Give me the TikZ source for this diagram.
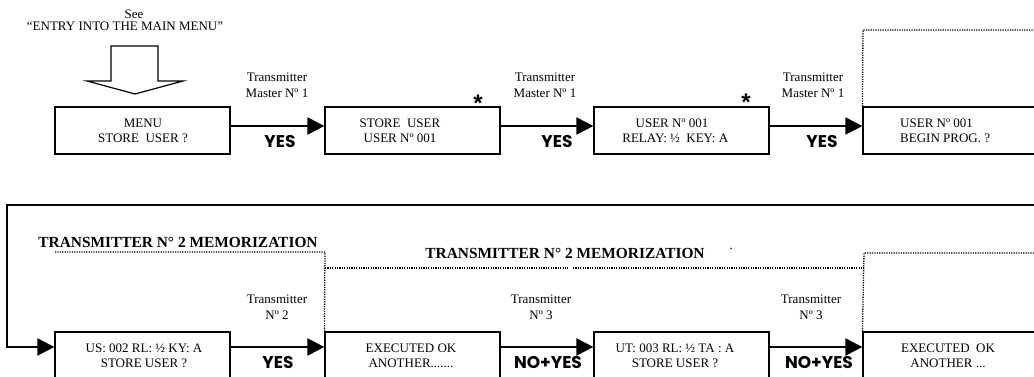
\documentclass[tikz,border=0pt]{standalone}
\usepackage{fontspec}
\setmainfont{Liberation Serif}
\newfontfamily\yesfont{Poppins}
\newfontfamily\starfont{Liberation Sans}
\usetikzlibrary{arrows.meta}

\begin{document}
\begin{tikzpicture}[x=1pt, y=-1pt,
  screen/.style={draw, line width=1.2pt, minimum width=175pt, minimum height=47pt, inner sep=0pt},
  lcd/.style={align=center, font=\fontsize{13}{15}\selectfont, inner sep=0pt},
  tx/.style={align=center, font=\fontsize{13}{16}\selectfont, inner sep=0pt},
  answer/.style={font=\yesfont\bfseries\fontsize{17}{17}\selectfont, inner sep=0pt},
  title/.style={font=\bfseries\fontsize{15.4}{16}\selectfont, inner sep=0pt},
  star/.style={font=\starfont\bfseries\fontsize{24}{24}\selectfont, inner sep=0pt},
  go/.style={line width=2pt, -{Triangle[length=17pt,width=17pt]}},
  zone/.style={line width=1.3pt, dash pattern=on 1.2pt off 1.2pt}]

  \useasboundingbox (0,0) rectangle (1034,377);
  \clip (0,0) rectangle (1034,377);

  % --- entry from the main menu ---
  \node[tx] (see) at (134,14) {See};
  \node[tx] (entry) at (125,26) {“ENTRY INTO THE MAIN MENU”};
  \draw[line width=1.2pt] (111,46) -- (158,46) -- (158,81) -- (183,81)
    -- (135,94) -- (87,81) -- (111,81) -- cycle;

  % --- first row of screens ---
  \node[screen] (menu) at (142.5,130.5) {};
  \node[screen] (store) at (412.5,130.5) {};
  \node[screen] (relay) at (681.5,130.5) {};
  \node[screen] (begin) at (950.5,130.5) {};

  \node[lcd] (menuT) at (143,130.5) {MENU\\STORE\ \ USER ?};
  \node[lcd] (storeT) at (400,130.5) {STORE\ \ USER\\USER Nº 001};
  \node[lcd] (relayT) at (672,130.5) {USER Nº 001\\\ \ RELAY: ½\ \ KEY: A};
  \node[lcd, anchor=west, align=left] (beginT) at (900,130.5) {USER Nº 001\\BEGIN PROG. ?};

  \node[star] (starA) at (478,103) {*};
  \node[star] (starB) at (746,102) {*};

  \draw[go] ([yshift=4.5pt]menu.east) -- ([yshift=4.5pt]store.west);
  \draw[go] ([yshift=4.5pt]store.east) -- ([yshift=4.5pt]relay.west);
  \draw[go] ([yshift=4.5pt]relay.east) -- ([yshift=4.5pt]begin.west);

  \node[tx] (txA) at (277,85) {Transmitter\\Master Nº 1};
  \node[tx] (txB) at (545,85) {Transmitter\\Master Nº 1};
  \node[tx] (txC) at (813,85) {Transmitter\\Master Nº 1};
  \node[answer] (yesA) at (280,142) {YES};
  \node[answer] (yesB) at (557,142) {YES};
  \node[answer] (yesC) at (822,142) {YES};

  % --- dotted frames ---
  \coordinate (frameTop) at (863,30);
  \draw[zone] (begin.north west) -- (frameTop) -- ++(180,0);

  % --- second row of screens ---
  \node[screen] (us2) at (142.5,355.5) {};
  \node[screen] (ok2) at (412.5,355.5) {};
  \node[screen] (ut3) at (681.5,355.5) {};
  \node[screen] (ok3) at (950.5,355.5) {};

  \node[lcd] (us2T) at (144,356) {US: 002 RL: ½ KY: A\\STORE USER ?};
  \node[lcd] (ok2T) at (411,356) {EXECUTED OK\\ANOTHER.......};
  \node[lcd] (ut3T) at (675,356) {UT: 003 RL: ½ TA : A\\STORE USER ?};
  \node[lcd] (ok3T) at (948,356) {EXECUTED\ \ OK\\ANOTHER ...};

  % --- loop back from the first row ---
  \coordinate (backR) at (1040,205);
  \coordinate (backL) at (7,205);
  \draw[go] (backR) -- (backL) |- ([yshift=8.5pt]us2.west);

  \draw[go] ([yshift=8.5pt]us2.east) -- ([yshift=8.5pt]ok2.west);
  \draw[go] ([yshift=8.5pt]ok2.east) -- ([yshift=8.5pt]ut3.west);
  \draw[go] ([yshift=8.5pt]ut3.east) -- ([yshift=8.5pt]ok3.west);

  \node[tx] (txD) at (277,307) {Transmitter\\Nº 2};
  \node[tx] (txE) at (541,307) {Transmitter\\Nº 3};
  \node[tx] (txF) at (811,307) {Transmitter\\Nº 3};
  \node[answer] (yesD) at (278,363) {YES};
  \node[answer] (noyesE) at (548,363) {NO+YES};
  \node[answer] (noyesF) at (819,363) {NO+YES};

  % --- memorization frames ---
  \node[title] (memoA) at (178,242) {TRANSMITTER N° 2 MEMORIZATION};
  \node[title] (memoB) at (565,253) {TRANSMITTER N° 2 MEMORIZATION};
  \node[lcd] (dot) at (731,249) {.};

  \coordinate (memoA1) at (55,252);
  \coordinate (memoA2) at (325,252);
  \draw[zone] (memoA1) -- (memoA2) -- (ok2.north west);

  \coordinate (memoB1) at (325,268);
  \coordinate (memoB2) at (568,268);
  \coordinate (memoB3) at (573,268);
  \coordinate (memoB4) at (864,268);
  \draw[zone] (memoB1) -- (memoB2);
  \draw[zone] (memoB3) -- (memoB4);

  \coordinate (frameLow) at (864,253);
  \draw[zone] (ok3.north west) -- (frameLow) -- ++(180,0);

\end{tikzpicture}
\end{document}
